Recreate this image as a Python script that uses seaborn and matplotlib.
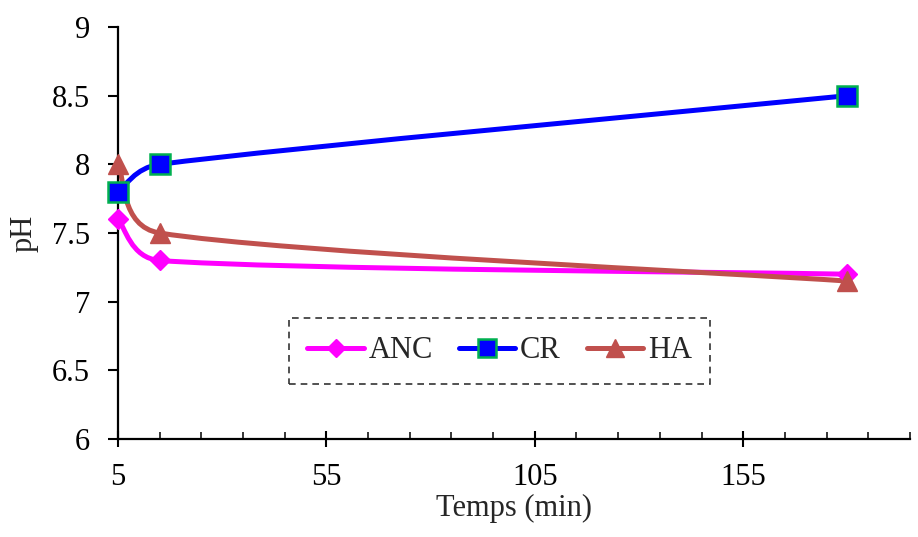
import numpy as np
import pandas as pd
import seaborn as sns
import matplotlib.pyplot as plt
from matplotlib.path import Path
from matplotlib.patches import PathPatch
from matplotlib.lines import Line2D

# ---- data ----
time = [5, 15, 180]
anc = [7.6, 7.3, 7.2]
cr = [7.8, 8.0, 8.5]
ha = [8.0, 7.5, 7.15]
series_names = ["ANC", "CR", "HA"]
x_major = [5, 55, 105, 155]
y_ticks = [6, 6.5, 7, 7.5, 8, 8.5, 9]
y_ticklabels = ["6", "6.5", "7", "7.5", "8", "8.5", "9"]

df = pd.DataFrame({"Temps": time * 3,
                   "pH": anc + cr + ha,
                   "serie": [s for s in series_names for _ in time]})

sns.set_theme(style="ticks")
plt.rcParams['font.family'] = ['Liberation Serif', 'DejaVu Serif']

FS = 22
LW = 3.6

fig = plt.figure(figsize=(9.18, 5.37), dpi=100)
ax = fig.add_axes([0.1285, 0.1825, 0.8627, 0.7672])
ax.set_xlim(5, 195)
ax.set_ylim(6, 9)

styles = {
    "ANC": dict(color="#FF00FF", marker="D", ms=10, mec="#FF00FF", mew=1),
    "CR": dict(color="#0000FF", marker="s", ms=14, mec="#00B050", mew=1.8),
    "HA": dict(color="#C0504D", marker="^", ms=15, mec="#C0504D", mew=1),
}


def excel_smooth(ax, xs, ys):
    pts = ax.transData.transform(np.column_stack([xs, ys]))
    n = len(pts)
    verts = [pts[0]]
    codes = [Path.MOVETO]
    for i in range(n - 1):
        p0 = pts[i - 1] if i > 0 else pts[i]
        p1 = pts[i]
        p2 = pts[i + 1]
        p3 = pts[i + 2] if i + 2 < n else pts[i + 1]
        seg = np.linalg.norm(p2 - p1)
        t1 = (p2 - p0) / 6.0
        t2 = (p3 - p1) / 6.0
        for t in (t1, t2):
            nt = np.linalg.norm(t)
            if nt > seg / 2:
                t *= (seg / 2) / nt
        verts += [p1 + t1, p2 - t2, p2]
        codes += [Path.CURVE4] * 3
    inv = ax.transData.inverted()
    return Path(inv.transform(np.array(verts)), codes)


for name in series_names:
    sub = df[df.serie == name]
    st = styles[name]
    path = excel_smooth(ax, sub["Temps"].values, sub["pH"].values)
    ax.add_patch(PathPatch(path, facecolor="none", edgecolor=st["color"],
                           lw=LW, capstyle="round", zorder=2, clip_on=False))

for name in series_names:
    st = styles[name]
    sub = df[df.serie == name]
    sns.lineplot(data=sub, x="Temps", y="pH", ax=ax, linestyle="",
                 marker=st["marker"], markersize=st["ms"],
                 markerfacecolor=st["color"], markeredgecolor=st["mec"],
                 markeredgewidth=st["mew"], color=st["color"],
                 legend=False, zorder=3, clip_on=False)

sns.despine(ax=ax)
for sp in ("left", "bottom"):
    ax.spines[sp].set_linewidth(1.6)
    ax.spines[sp].set_color("black")

ax.set_xticks(x_major)
ax.set_xticks(np.arange(5, 196, 10), minor=True)
ax.set_yticks(y_ticks)
ax.set_yticklabels(y_ticklabels)
ax.tick_params(axis="x", which="major", direction="inout", length=12, width=1.5,
               pad=11, labelsize=FS, colors="black")
ax.tick_params(axis="x", which="minor", direction="in", length=5, width=1.3)
ax.tick_params(axis="y", which="major", direction="out", length=7, width=1.5,
               pad=13, labelsize=FS, colors="black")

ax.set_xlabel("Temps (min)", fontsize=FS, labelpad=2)
ax.set_ylabel("pH", fontsize=FS, labelpad=10)

handles = [Line2D([], [], color=styles[n]["color"], lw=LW, marker=styles[n]["marker"],
                  markersize=styles[n]["ms"] * 0.9, markerfacecolor=styles[n]["color"],
                  markeredgecolor=styles[n]["mec"], markeredgewidth=styles[n]["mew"],
                  solid_capstyle="round")
           for n in series_names]
leg = ax.legend(handles, series_names, loc="center", bbox_to_anchor=(0.482, 0.214),
                ncol=3, fontsize=FS, frameon=True, fancybox=False, handlelength=1.85,
                handletextpad=0.15, columnspacing=0.85, borderpad=0.6)
fr = leg.get_frame()
fr.set_edgecolor("black")
fr.set_linestyle((0, (4, 3)))
fr.set_linewidth(1.2)

fig.savefig("out.png", dpi=100)
